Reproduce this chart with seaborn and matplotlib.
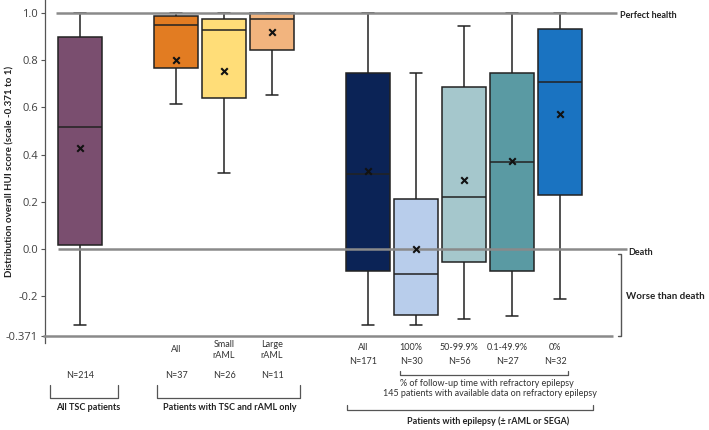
import numpy as np
import pandas as pd
import matplotlib
matplotlib.use("Agg")
import matplotlib.pyplot as plt
import matplotlib.transforms as mtransforms
from matplotlib.lines import Line2D
import seaborn as sns

# ── data ──────────────────────────────────────────────────
groups   = ["All TSC", "rAML all", "Small rAML", "Large rAML",
            "Epi all", "100%", "50-99.9%", "0.1-49.9%", "0%"]
whis_lo  = [-0.322, 0.614, 0.321, 0.653, -0.322, -0.322, -0.297, -0.284, -0.213]
q1       = [0.016, 0.769, 0.639, 0.844, -0.092, -0.281, -0.056, -0.092, 0.228]
medians  = [0.516, 0.949, 0.928, 0.975, 0.319, -0.106, 0.221, 0.368, 0.710]
q3       = [0.898, 0.989, 0.974, 1.000, 0.748, 0.211, 0.689, 0.748, 0.932]
whis_hi  = [1.000, 1.000, 1.000, 1.000, 1.000, 0.745, 0.947, 1.000, 1.000]
means    = [0.430, 0.802, 0.754, 0.922, 0.331, 0.001, 0.293, 0.373, 0.573]
n_labels = ["N=214", "N=37", "N=26", "N=11", "N=171", "N=30", "N=56", "N=27", "N=32"]
sub_labels = ["", "All", "Small\nrAML", "Large\nrAML", "All", "100%", "50-99.9%", "0.1-49.9%", "0%"]
ytick_vals = [1.0, 0.8, 0.6, 0.4, 0.2, 0.0, -0.2, -0.371]
ytick_text = ["1.0", "0.8", "0.6", "0.4", "0.2", "0.0", "-0.2", "-0.371"]

# slot positions (gaps between the three patient groups)
positions = [0, 2, 3, 4, 6, 7, 8, 9, 10]
colors = ["#7A4E6F", "#E27C22", "#FFDD78", "#F2B47E",
          "#0B2356", "#B8CDEB", "#A5C7CC", "#5A9AA3", "#1A73C1"]
palette = dict(zip(groups, colors))

# five numbers per box -> seaborn's quartiles reproduce them exactly
rows = []
for g, p, a, b, c, d, e in zip(groups, positions, whis_lo, q1, medians, q3, whis_hi):
    for v in (a, b, c, d, e):
        rows.append({"group": g, "pos": p, "score": v})
df = pd.DataFrame(rows)

sns.set_theme(style="white")
plt.rcParams["font.family"] = ["Lato", "DejaVu Sans"]

W, H = 709, 430
fig = plt.figure(figsize=(W / 100, H / 100), dpi=100)
ax = fig.add_axes([45 / W, 1 - 343 / H, 1 - 45 / W, 343 / H])

sns.boxplot(data=df, x="pos", y="score", hue="group", palette=palette,
            native_scale=True, dodge=False, width=0.92, whis=(0, 100),
            saturation=1, linecolor="#222222", linewidth=1.1,
            legend=False, capwidths=0.27, ax=ax)

sns.scatterplot(x=positions, y=means, marker="x", color="#111111",
                s=22, linewidth=1.5, zorder=6, ax=ax, legend=False)

# reference lines
GREY = "#8a8a8a"
ax.hlines(1.0, -0.5, 11.19, color=GREY, lw=1.8, zorder=4)
ax.hlines(0.0, -0.46, 11.4, color=GREY, lw=1.8, zorder=4)
ax.hlines(-0.371, -0.77, 11.1, color=GREY, lw=1.8, zorder=4, clip_on=False)
ax.plot([11.2, 11.27, 11.27, 11.2], [-0.02, -0.02, -0.371, -0.371],
        color="#555555", lw=1.0, zorder=4)
ax.text(11.25, 0.99, "Perfect health", fontsize=6.5, fontweight="bold",
        color="#222222", va="center", ha="left")
ax.text(11.43, -0.015, "Death", fontsize=6.5, fontweight="bold",
        color="#222222", va="center", ha="left")
ax.text(11.38, -0.2, "Worse than death", fontsize=7, fontweight="bold",
        color="#222222", va="center", ha="left")

ax.set_xlim((45 - 80) / 48, (W - 80) / 48)
ax.set_ylim(-0.399, 1.056)
ax.set_xticks([])
ax.set_xlabel("")
ax.set_yticks(ytick_vals)
ax.set_yticklabels(ytick_text, fontsize=8, color="#404040", family="Open Sans")
ax.tick_params(axis="y", length=3, width=0.8, color="#555555", left=True, pad=2)
ax.set_ylabel("Distribution overall HUI score (scale -0.371 to 1)",
              fontsize=7, fontweight="bold", color="#222222")
ax.yaxis.set_label_coords((14 - 45) / (W - 45), 0.5)
for side in ["top", "right", "bottom"]:
    ax.spines[side].set_visible(False)
ax.spines["left"].set_color("#555555")
ax.spines["left"].set_linewidth(0.9)

# ── annotations under the plot ────────────────────────────
blend = mtransforms.blended_transform_factory(ax.transData, fig.transFigure)

def fy(py):
    return 1 - py / H

for p, lab, n in zip(positions, sub_labels, n_labels):
    if p < 6:
        ax.text(p, fy(350), lab, transform=blend, ha="center", va="center",
                fontsize=6.5, color="#333333", linespacing=1.3)
        ax.text(p, fy(375), n, transform=blend, ha="center", va="center",
                fontsize=6.5, color="#333333")
    else:
        ax.text(p - 0.1, fy(348), lab, transform=blend, ha="center", va="center",
                fontsize=6.5, color="#333333")
        ax.text(p - 0.1, fy(362), n, transform=blend, ha="center", va="center",
                fontsize=6.5, color="#333333")

def bracket(x0, x1, ytop, ybot):
    fig.add_artist(Line2D([x0 / W, x0 / W, x1 / W, x1 / W],
                          [fy(ytop), fy(ybot), fy(ybot), fy(ytop)],
                          color="#555555", lw=0.9))

bracket(50, 118, 385, 398)
bracket(157, 300, 385, 398)
bracket(400, 568, 371, 375)
bracket(347, 593, 405, 410)

fig.text(88 / W, fy(408), "All TSC patients", ha="center", va="center",
         fontsize=6.5, fontweight="bold", color="#222222")
fig.text(230 / W, fy(408), "Patients with TSC and rAML only", ha="center",
         va="center", fontsize=6.5, fontweight="bold", color="#222222")
fig.text(487 / W, fy(383), "% of follow-up time with refractory epilepsy",
         ha="center", va="center", fontsize=6.5, color="#333333")
fig.text(490 / W, fy(394), "145 patients with available data on refractory epilepsy",
         ha="center", va="center", fontsize=6.5, color="#333333")
fig.text(488 / W, fy(421), "Patients with epilepsy (\u00b1 rAML or SEGA)",
         ha="center", va="center", fontsize=6.5, fontweight="bold", color="#222222")

fig.savefig("out.png", dpi=100, facecolor="white")
plt.close(fig)
